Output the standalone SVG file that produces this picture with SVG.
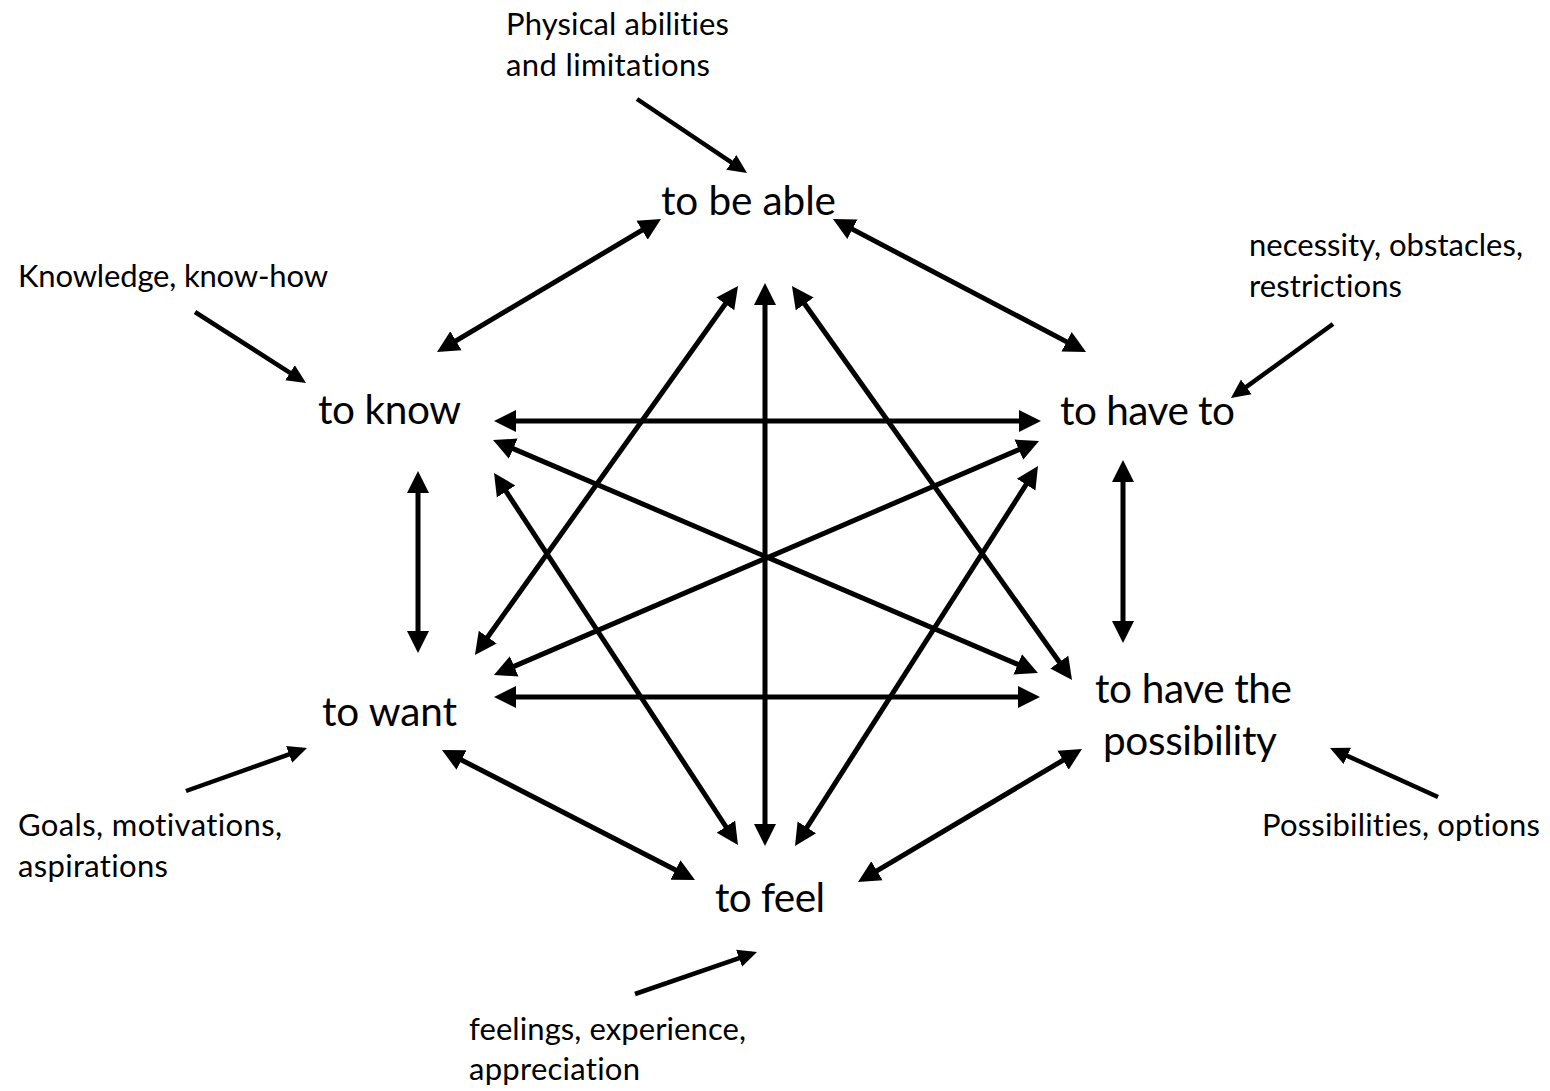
<svg xmlns="http://www.w3.org/2000/svg" width="1550" height="1091" viewBox="0 0 1550 1091">
  <style>
    text { font-family: Lato, "Open Sans", "Liberation Sans", sans-serif; fill: #000; font-variant-ligatures: none; font-feature-settings: "liga" 0, "clig" 0; }
    .main { font-size: 40.5px; }
    .note { font-size: 31px; }
    .dbl { stroke: #000; stroke-width: 5; fill: none; marker-start: url(#head); marker-end: url(#head); }
    .sgl { stroke: #000; stroke-width: 4.5; fill: none; marker-end: url(#headS); }
  </style>
  <defs>
    <marker id="head" markerUnits="userSpaceOnUse" markerWidth="24" markerHeight="24" viewBox="0 -12 24 24" refX="4" refY="0" orient="auto-start-reverse">
      <path d="M0,-11 L22,0 L0,11 z" fill="#000"/>
    </marker>
    <marker id="headS" markerUnits="userSpaceOnUse" markerWidth="22" markerHeight="22" viewBox="0 -11 22 22" refX="14" refY="0" orient="auto">
      <path d="M0,-9 L19,0 L0,9 z" fill="#000"/>
    </marker>
  </defs>
  <rect width="1550" height="1091" fill="#fff"/>

  <g id="connectors">
    <line class="dbl" x1="645.5" y1="228.2" x2="452.5" y2="342.8"/>
    <line class="dbl" x1="848.9" y1="227.4" x2="1070.1" y2="343.6"/>
    <line class="dbl" x1="512" y1="421" x2="1023" y2="421"/>
    <line class="dbl" x1="509.6" y1="447.1" x2="1021.4" y2="665.9"/>
    <line class="dbl" x1="503.9" y1="488.1" x2="728.1" y2="830.0"/>
    <line class="dbl" x1="418" y1="489" x2="418" y2="635"/>
    <line class="dbl" x1="727.6" y1="300.7" x2="485.4" y2="640.3"/>
    <line class="dbl" x1="765" y1="301" x2="765" y2="828"/>
    <line class="dbl" x1="802.4" y1="300.7" x2="1061.6" y2="665.3"/>
    <line class="dbl" x1="1022.5" y1="448.1" x2="510.5" y2="667.9"/>
    <line class="dbl" x1="1028.3" y1="481.2" x2="804.7" y2="830.8"/>
    <line class="dbl" x1="1123" y1="478" x2="1123" y2="625"/>
    <line class="dbl" x1="512" y1="697" x2="1022" y2="697"/>
    <line class="dbl" x1="458.0" y1="758.2" x2="679.0" y2="871.8"/>
    <line class="dbl" x1="873.5" y1="872.8" x2="1066.5" y2="758.2"/>

    <line class="sgl" x1="637" y1="99" x2="742.9" y2="170.2"/>
    <line class="sgl" x1="195" y1="312" x2="301.8" y2="380.3"/>
    <line class="sgl" x1="1333" y1="324" x2="1235.0" y2="395.1"/>
    <line class="sgl" x1="186" y1="791" x2="302.3" y2="749.7"/>
    <line class="sgl" x1="1438" y1="797" x2="1334.6" y2="750.1"/>
    <line class="sgl" x1="635" y1="994" x2="752.3" y2="953.6"/>
  </g>

  <g id="node-able"><text class="main" x="661" y="215" textLength="175">to be able</text></g>
  <g id="node-know"><text class="main" x="318" y="424" textLength="143">to know</text></g>
  <g id="node-haveto"><text class="main" x="1060" y="425" textLength="175">to have to</text></g>
  <g id="node-want"><text class="main" x="322" y="726" textLength="135">to want</text></g>
  <g id="node-possibility">
    <text class="main" x="1095" y="703" textLength="197">to have the</text>
    <text class="main" x="1103" y="755" textLength="174">possibility</text>
  </g>
  <g id="node-feel"><text class="main" x="715" y="912" textLength="110">to feel</text></g>

  <g id="note-physical">
    <text class="note" x="506" y="35" textLength="223">Physical abilities</text>
    <text class="note" x="506" y="76" textLength="204">and limitations</text>
  </g>
  <g id="note-knowledge"><text class="note" x="18" y="287" textLength="310">Knowledge, know-how</text></g>
  <g id="note-necessity">
    <text class="note" x="1249" y="256" textLength="274">necessity, obstacles,</text>
    <text class="note" x="1249" y="297" textLength="153">restrictions</text>
  </g>
  <g id="note-goals">
    <text class="note" x="18" y="836" textLength="264">Goals, motivations,</text>
    <text class="note" x="18" y="877" textLength="150">aspirations</text>
  </g>
  <g id="note-possibilities"><text class="note" x="1262" y="836" textLength="278">Possibilities, options</text></g>
  <g id="note-feelings">
    <text class="note" x="469" y="1040" textLength="277">feelings, experience,</text>
    <text class="note" x="469" y="1080" textLength="171">appreciation</text>
  </g>
</svg>
